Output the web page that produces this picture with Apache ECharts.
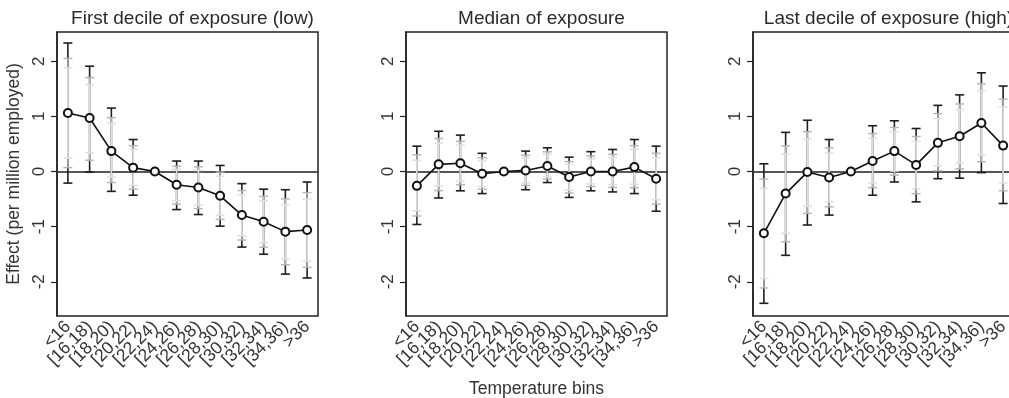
<!DOCTYPE html>
<html>
<head>
<meta charset="utf-8">
<script src="https://cdn.jsdelivr.net/npm/echarts@6/dist/echarts.min.js"></script>
<style>html,body{margin:0;padding:0;background:#fff;}#c{width:1009px;height:398px;}</style>
</head>
<body>
<div id="c"></div>
<script>
// ---- data ----
var categories = ['<16','[16,18)','[18,20)','[20,22)','[22,24)','[24,26)','[26,28)','[28,30)','[30,32)','[32,34)','[34,36)','>36'];
var panelTitles = ['First decile of exposure (low)','Median of exposure','Last decile of exposure (high)'];
var yTicks = [-2,-1,0,1,2];

// First decile (low)
var lowEst = [1.06, 0.97, 0.37, 0.07, 0, -0.24, -0.29, -0.44, -0.79, -0.91, -1.09, -1.06];
var lowLo  = [-0.21, -0.01, -0.36, -0.43, null, -0.69, -0.78, -0.99, -1.37, -1.50, -1.86, -1.93];
var lowHi  = [2.33, 1.91, 1.15, 0.58, null, 0.19, 0.19, 0.11, -0.22, -0.32, -0.33, -0.19];

// Median
var medEst = [-0.26, 0.13, 0.15, -0.04, 0, 0.02, 0.10, -0.10, 0.00, 0.00, 0.08, -0.13];
var medLo  = [-0.96, -0.48, -0.35, -0.40, null, -0.33, -0.20, -0.47, -0.35, -0.37, -0.40, -0.72];
var medHi  = [0.46, 0.73, 0.66, 0.33, null, 0.37, 0.43, 0.26, 0.36, 0.40, 0.58, 0.46];

// Last decile (high)
var highEst = [-1.12, -0.40, -0.01, -0.11, 0, 0.19, 0.37, 0.12, 0.52, 0.64, 0.88, 0.47];
var highLo  = [-2.39, -1.52, -0.97, -0.79, null, -0.43, -0.19, -0.55, -0.13, -0.12, -0.02, -0.58];
var highHi  = [0.14, 0.71, 0.93, 0.58, null, 0.83, 0.92, 0.78, 1.20, 1.39, 1.79, 1.55];

// inner interval half-widths relative to the outer one
var innerRatios = [0.78, 0.645];

var FONT = 'Liberation Sans, Arial, sans-serif';
var panels = [
  {est: lowEst, lo: lowLo, hi: lowHi},
  {est: medEst, lo: medLo, hi: medHi},
  {est: highEst, lo: highLo, hi: highHi}
];
var lefts = [57, 406, 753];
var W = 261, TOP = 32, H = 284;

function ciRender(ratio, color, width) {
  return function (params, api) {
    var x = api.value(0), e = api.value(1), lo = api.value(2), hi = api.value(3);
    var l = e - (e - lo) * ratio, h = e + (hi - e) * ratio;
    var pT = api.coord([x, h]), pB = api.coord([x, l]);
    var cw = 4.5;
    var st = {stroke: color, lineWidth: width};
    return {type: 'group', children: [
      {type: 'line', shape: {x1: pT[0], y1: pT[1], x2: pB[0], y2: pB[1]}, style: st},
      {type: 'line', shape: {x1: pT[0] - cw, y1: pT[1], x2: pT[0] + cw, y2: pT[1]}, style: st},
      {type: 'line', shape: {x1: pB[0] - cw, y1: pB[1], x2: pB[0] + cw, y2: pB[1]}, style: st}
    ]};
  };
}

var grids = [], xAxes = [], yAxes = [], series = [], titles = [];
panels.forEach(function (p, k) {
  grids.push({left: lefts[k], top: TOP, width: W, height: H, show: true, borderColor: '#222', borderWidth: 1.5,
    backgroundColor: 'transparent', containLabel: false, outerBoundsMode: 'none'});
  titles.push({text: panelTitles[k], left: lefts[k] + W / 2, top: 4, textAlign: 'center',
    textStyle: {fontFamily: FONT, fontSize: 19, fontWeight: 'normal', color: '#2a2a2a'}});
  xAxes.push({
    type: 'category', gridIndex: k, data: categories, boundaryGap: true,
    axisLine: {lineStyle: {color: '#222', width: 1.5}},
    axisTick: {alignWithLabel: true, length: 5, lineStyle: {color: '#222', width: 1.2}},
    axisLabel: {rotate: 45, interval: 0, fontFamily: FONT, fontSize: 17.5, color: '#333', margin: 8},
    name: k === 1 ? 'Temperature bins' : '', nameLocation: 'middle', nameGap: 64,
    nameTextStyle: {fontFamily: FONT, fontSize: 17.5, color: '#333'}
  });
  yAxes.push({
    type: 'value', gridIndex: k, min: -2.62, max: 2.53,
    axisLine: {show: true, lineStyle: {color: '#222', width: 1.5}},
    axisTick: {show: true, length: 6, customValues: yTicks, lineStyle: {color: '#222', width: 1.2}},
    axisLabel: {rotate: 90, customValues: yTicks, fontFamily: FONT, fontSize: 17, color: '#333', margin: 9},
    splitLine: {show: false},
    name: k === 0 ? 'Effect (per million employed)' : '', nameLocation: 'middle', nameGap: 34, nameRotate: 90,
    nameTextStyle: {fontFamily: FONT, fontSize: 17.5, color: '#333'}
  });
  var ciData = [];
  p.est.forEach(function (v, i) {
    if (p.lo[i] !== null && p.hi[i] !== null) ciData.push([i, v, p.lo[i], p.hi[i]]);
  });
  var layers = [[1, '#1e1e1e', 1.6], [innerRatios[0], '#b4b4b4', 1.4], [innerRatios[1], '#e0e0e0', 1.5]];
  layers.forEach(function (L, j) {
    series.push({type: 'custom', xAxisIndex: k, yAxisIndex: k, data: ciData, renderItem: ciRender(L[0], L[1], L[2]), z: 3 + j, silent: true, animation: false});
  });
  series.push({
    type: 'line', xAxisIndex: k, yAxisIndex: k, data: p.est, z: 10,
    symbol: 'circle', symbolSize: 8, showSymbol: true,
    lineStyle: {color: '#111', width: 1.6},
    itemStyle: {color: '#fff', borderColor: '#111', borderWidth: 2},
    markLine: {silent: true, symbol: 'none', label: {show: false}, lineStyle: {color: '#555', width: 1.2, type: 'solid'},
      data: [{yAxis: 0}], animation: false, z: 2},
    animation: false
  });
});

var chart = echarts.init(document.getElementById('c'));
chart.setOption({
  backgroundColor: '#fff',
  animation: false,
  title: titles,
  grid: grids,
  xAxis: xAxes,
  yAxis: yAxes,
  series: series
});
</script>
</body>
</html>
